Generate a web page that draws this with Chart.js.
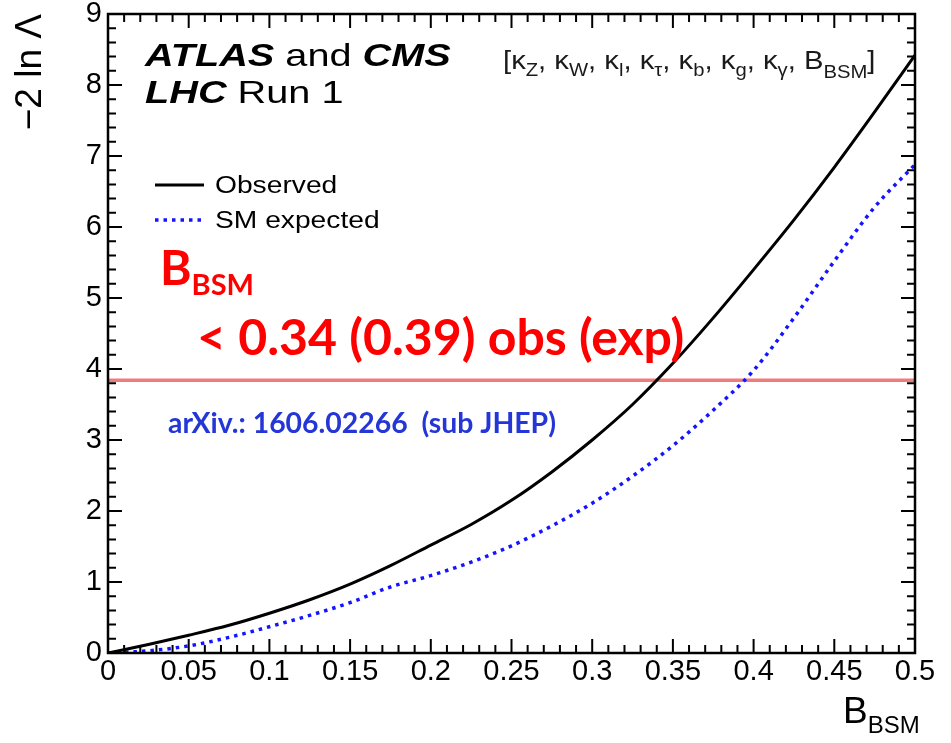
<!DOCTYPE html>
<html>
<head>
<meta charset="utf-8">
<script src="https://cdn.jsdelivr.net/npm/chart.js@4/dist/chart.umd.min.js"></script>
<style>
  html, body { margin: 0; padding: 0; background: #fff; }
  canvas { display: block; }
</style>
</head>
<body>
<canvas id="scan" width="951" height="743"></canvas>
<script>
// Likelihood scan of the BSM branching fraction
const bsm = [0, 0.025, 0.05, 0.075, 0.1, 0.125, 0.15, 0.175, 0.2, 0.225, 0.25,
             0.275, 0.3, 0.325, 0.35, 0.375, 0.4, 0.425, 0.45, 0.475, 0.5];
const observed = [0, 0.12, 0.25, 0.39, 0.56, 0.75, 0.97, 1.23, 1.52, 1.81, 2.15,
                  2.55, 3.00, 3.50, 4.08, 4.72, 5.40, 6.10, 6.84, 7.62, 8.42];
const expected = [0, 0.03, 0.10, 0.22, 0.37, 0.53, 0.71, 0.93, 1.09, 1.28, 1.51,
                  1.79, 2.11, 2.49, 2.92, 3.42, 3.98, 4.72, 5.52, 6.28, 6.88];
// 95% CL threshold on -2 ln Lambda
const cl95 = 3.84;
const seriesNames = ['Observed', 'SM expected'];
const xRange = [0, 0.5];
const yRange = [0, 9];

const SANS = "'Liberation Sans', Arial, Helvetica, sans-serif";
const HUMAN = "Lato, 'Open Sans', sans-serif";

const toPoints = (xs, ys) => xs.map((v, i) => ({ x: v, y: ys[i] }));

// draw a run of text pieces (normal / subscript / styled) with optional horizontal stretch
function drawRuns(ctx, runs, x, y, sx) {
  ctx.save();
  ctx.translate(x, y);
  ctx.scale(sx, 1);
  let cx = 0;
  for (const r of runs) {
    ctx.font = r.font;
    ctx.fillStyle = r.color || '#000';
    ctx.fillText(r.t, cx, r.dy || 0);
    cx += ctx.measureText(r.t).width;
  }
  ctx.restore();
}

const framePlugin = {
  id: 'frameTicks',
  afterDatasetsDraw(chart) {
    const { ctx, chartArea: a, scales: { x, y } } = chart;
    ctx.save();
    ctx.strokeStyle = '#000';
    ctx.lineWidth = 2;
    ctx.beginPath();
    for (let i = 0; i <= 50; i++) {
      const px = x.getPixelForValue(i / 100);
      const len = i % 5 === 0 ? 14 : 8;
      ctx.moveTo(px, a.bottom); ctx.lineTo(px, a.bottom - len);
      ctx.moveTo(px, a.top); ctx.lineTo(px, a.top + len);
    }
    for (let i = 0; i <= 45; i++) {
      const py = y.getPixelForValue(i / 5);
      const len = i % 5 === 0 ? 14 : 8;
      ctx.moveTo(a.left, py); ctx.lineTo(a.left + len, py);
      ctx.moveTo(a.right, py); ctx.lineTo(a.right - len, py);
    }
    ctx.stroke();
    ctx.lineWidth = 2.5;
    ctx.strokeRect(a.left, a.top, a.right - a.left, a.bottom - a.top);
    ctx.restore();
  },
  afterDraw(chart) {
    const { ctx, chartArea: a } = chart;
    const L = a.left, T = a.top;
    ctx.save();
    ctx.textBaseline = 'alphabetic';

    // experiment labels
    drawRuns(ctx, [
      { t: 'ATLAS', font: `italic bold 32px ${SANS}` },
      { t: ' and ', font: `32px ${SANS}` },
      { t: 'CMS', font: `italic bold 32px ${SANS}` }
    ], L + 37, T + 52, 1.24);
    drawRuns(ctx, [
      { t: 'LHC', font: `italic bold 32px ${SANS}` },
      { t: ' Run 1', font: `32px ${SANS}` }
    ], L + 37, T + 89, 1.24);

    // parameter set of the fit
    const big = `26px ${SANS}`, small = `18px ${SANS}`;
    const col = '#1a1a1a';
    const pr = [];
    const subs = ['Z', 'W', 'l', '\u03c4', 'b', 'g', '\u03b3'];
    pr.push({ t: '[\u03ba', font: big, color: col });
    subs.forEach((s, i) => {
      pr.push({ t: s, font: small, color: col, dy: 7 });
      pr.push({ t: i < subs.length - 1 ? ', \u03ba' : ', B', font: big, color: col });
    });
    pr.push({ t: 'BSM', font: small, color: col, dy: 9 });
    pr.push({ t: ']', font: big, color: col });
    drawRuns(ctx, pr, L + 395, T + 55, 1.125);

    // legend
    const ds = chart.data.datasets;
    [0, 1].forEach(i => {
      const yy = T + 171 + i * 35;
      ctx.save();
      ctx.strokeStyle = ds[i].borderColor;
      ctx.lineWidth = ds[i].borderWidth;
      ctx.setLineDash(ds[i].borderDash || []);
      ctx.beginPath();
      ctx.moveTo(L + 47, yy); ctx.lineTo(L + 96, yy);
      ctx.stroke();
      ctx.restore();
      drawRuns(ctx, [{ t: ds[i].label, font: `23.5px ${SANS}` }], L + 107, yy + 8, 1.2);
    });

    // limit annotation
    drawRuns(ctx, [
      { t: 'B', font: `bold 48px ${HUMAN}`, color: '#ff0000' },
      { t: 'BSM', font: `bold 29px ${HUMAN}`, color: '#ff0000', dy: 10 }
    ], L + 52, T + 271, 1);
    drawRuns(ctx, [
      { t: '< 0.34 (0.39) obs (exp)', font: `bold 50px ${HUMAN}`, color: '#ff0000' }
    ], L + 89, T + 341, 1);
    drawRuns(ctx, [
      { t: 'arXiv.: 1606.02266  (sub JHEP)', font: `bold 28.4px ${HUMAN}`, color: '#2436d6' }
    ], L + 60, T + 419, 1);

    // x-axis title
    drawRuns(ctx, [
      { t: 'B', font: `37px ${SANS}` },
      { t: 'BSM', font: `24px ${SANS}`, dy: 10 }
    ], a.right - 72, a.bottom + 70, 1);
    ctx.restore();
  }
};

new Chart(document.getElementById('scan'), {
  type: 'line',
  data: {
    datasets: [
      {
        label: seriesNames[0],
        data: toPoints(bsm, observed),
        borderColor: '#000000',
        borderWidth: 3,
        pointRadius: 0,
        cubicInterpolationMode: 'monotone'
      },
      {
        label: seriesNames[1],
        data: toPoints(bsm, expected),
        borderColor: '#1414ff',
        borderWidth: 3.5,
        borderDash: [3.5, 5],
        pointRadius: 0,
        cubicInterpolationMode: 'monotone'
      },
      {
        label: '95% CL',
        data: [{ x: xRange[0], y: cl95 }, { x: xRange[1], y: cl95 }],
        borderColor: 'rgba(238, 90, 90, 0.8)',
        borderWidth: 3.5,
        pointRadius: 0
      }
    ]
  },
  options: {
    responsive: false,
    animation: false,
    devicePixelRatio: 1,
    layout: { padding: { left: 0, right: 36, top: 14, bottom: 0 } },
    plugins: { legend: { display: false }, tooltip: { enabled: false } },
    scales: {
      x: {
        type: 'linear',
        min: xRange[0], max: xRange[1],
        grid: { display: false, drawTicks: false },
        border: { display: false },
        ticks: {
          stepSize: 0.05, autoSkip: false, maxRotation: 0,
          color: '#000', padding: 2,
          font: { family: SANS, size: 29 },
          callback: v => String(Number(v.toFixed(2)))
        },
        afterFit: s => { s.height = 90; s.paddingLeft = 0; s.paddingRight = 0; }
      },
      y: {
        type: 'linear',
        min: yRange[0], max: yRange[1],
        grid: { display: false, drawTicks: false },
        border: { display: false },
        ticks: {
          stepSize: 1, color: '#000', padding: 6,
          font: { family: SANS, size: 29 }
        },
        title: {
          display: true, text: '\u22122 ln \u039b', align: 'end', color: '#000',
          font: { family: SANS, size: 37 }, padding: { top: 9, bottom: 0 }
        },
        afterFit: s => { s.width = 108; s.paddingTop = 0; s.paddingBottom = 0; }
      }
    }
  },
  plugins: [framePlugin]
});
</script>
</body>
</html>
